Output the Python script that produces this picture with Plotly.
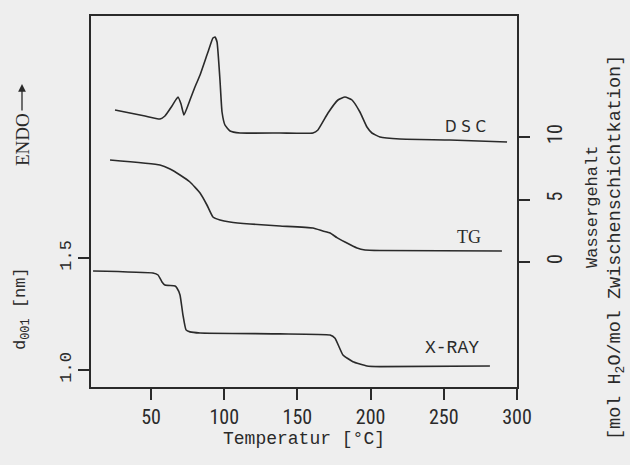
import plotly.graph_objects as go

# ---- data ----
dsc_T = [25.4, 35.6, 45.9, 56.1, 59.5, 64.3, 68.4, 70.5, 72.5, 76.6, 80.0, 83.5, 88.9, 92.3, 93.7, 95.1,
         97.1, 98.5, 100.5, 104.0, 110.8, 138.1, 160.6, 164.0, 170.9, 177.7, 182.5, 187.3, 192.7,
         197.5, 200.9, 206.4, 220.0, 254.2, 293.2]
dsc_v = [3.2, 2.9, 2.6, 2.3, 2.6, 3.6, 4.5, 3.8, 2.7, 4.2, 5.5, 6.7, 9.0, 10.4, 10.5, 10.0,
         6.2, 3.0, 1.7, 1.1, 0.9, 0.9, 0.9, 1.2, 2.9, 4.2, 4.5, 4.2, 3.0,
         1.5, 0.9, 0.5, 0.3, 0.2, 0.0]

tg_T = [22.0, 56.1, 63.0, 69.8, 76.6, 83.5, 88.2, 92.3, 97.1, 103.9, 117.6, 138.1, 160.6,
        167.4, 172.3, 177.0, 182.5, 190.7, 196.2, 206.4, 289.7]
tg_v = [8.16, 7.76, 7.44, 6.96, 6.40, 5.52, 4.56, 3.60, 3.36, 3.20, 3.04, 2.88, 2.72,
        2.48, 2.32, 1.95, 1.60, 1.12, 0.96, 0.92, 0.88]

xr_T = [10.4, 51.3, 54.8, 57.5, 59.5, 66.4, 67.7, 69.8, 71.8, 73.9, 76.6, 83.5, 138.1,
        172.3, 175.7, 181.1, 187.9, 197.5, 206.4, 281.5]
xr_d = [1.442, 1.433, 1.424, 1.393, 1.379, 1.375, 1.366, 1.335, 1.246, 1.179, 1.170, 1.165, 1.161,
        1.156, 1.142, 1.067, 1.037, 1.018, 1.015, 1.018]

x_ticks = [50, 100, 150, 200, 250, 300]
left_ticks = [1.0, 1.5]
right_ticks = [0, 5, 10]

LC = "#2a2a2a"
BG = "#eeeeee"
NARROW = "Liberation Sans Narrow, Roboto Condensed, DejaVu Sans Condensed, Arial Narrow, sans-serif"
MONO = "Liberation Mono, Courier New, monospace"
SERIF = "Liberation Serif, Times New Roman, serif"

fig = go.Figure()
line = dict(color=LC, width=1.6, shape="spline", smoothing=0.4)
fig.add_trace(go.Scatter(x=dsc_T, y=dsc_v, mode="lines", line=line, yaxis="y3", name="DSC"))
fig.add_trace(go.Scatter(x=tg_T, y=tg_v, mode="lines", line=line, yaxis="y2", name="TG"))
fig.add_trace(go.Scatter(x=xr_T, y=xr_d, mode="lines", line=line, yaxis="y", name="X-RAY"))

axcommon = dict(showgrid=False, zeroline=False, showline=True, linecolor=LC, linewidth=1.5,
                ticks="outside", ticklen=11, tickwidth=1.5, tickcolor=LC)

fig.update_layout(
    width=630, height=465,
    margin=dict(l=91, r=113, t=16, b=78),
    paper_bgcolor=BG, plot_bgcolor=BG,
    showlegend=False,
    xaxis=dict(range=[9, 300], tickvals=x_ticks, mirror=True,
               tickfont=dict(family=NARROW, size=20, color=LC),
               title=dict(text="Temperatur [°C]", font=dict(family=MONO, size=18, color=LC), standoff=4),
               **axcommon),
    yaxis=dict(range=[0.924, 2.58], tickvals=left_ticks, ticktext=["1.0", "1.5"], tickangle=-90,
               tickfont=dict(family=MONO, size=17, color=LC), **axcommon),
    yaxis2=dict(range=[-10, 19.68], tickvals=right_ticks, overlaying="y", side="right", tickangle=-90,
                ticklabelstandoff=8,
                tickfont=dict(family=NARROW, size=20, color=LC), **axcommon),
    yaxis3=dict(range=[-24.5, 12.6], overlaying="y", visible=False),
)

def px(xp, yp):
    return (xp - 91) / 426, (387 - yp) / 371

anns = [
    ("D S C", 465, 127, "DejaVu Sans, sans-serif", 15, 0),
    ("TG", 469, 237, SERIF, 18, 0),
    ("X-RAY", 452, 348, MONO, 18, 0),
    ("ENDO", 22, 140, SERIF, 19, -90),
    ("d<sub>001</sub> [nm]", 22, 309, MONO, 17, -90),
    ("Wassergehalt", 592, 207, MONO, 17, -90),
    ("[mol H<sub>2</sub>O/mol Zwischenschichtkation]", 616, 248, MONO, 18.5, -90),
]
for t, xp, yp, fam, sz, ang in anns:
    xx, yy = px(xp, yp)
    fig.add_annotation(x=xx, y=yy, xref="paper", yref="paper", text=t, showarrow=False,
                       textangle=ang, font=dict(family=fam, size=sz, color=LC),
                       xanchor="center", yanchor="middle")

# ENDO arrow
ax_, ay_ = px(22, 84)
fig.add_annotation(x=ax_, y=ay_, xref="paper", yref="paper", text="", showarrow=True,
                   ax=0, ay=28, arrowhead=2, arrowsize=1.2, arrowwidth=1.3, arrowcolor=LC)

fig.write_html("out.html")
